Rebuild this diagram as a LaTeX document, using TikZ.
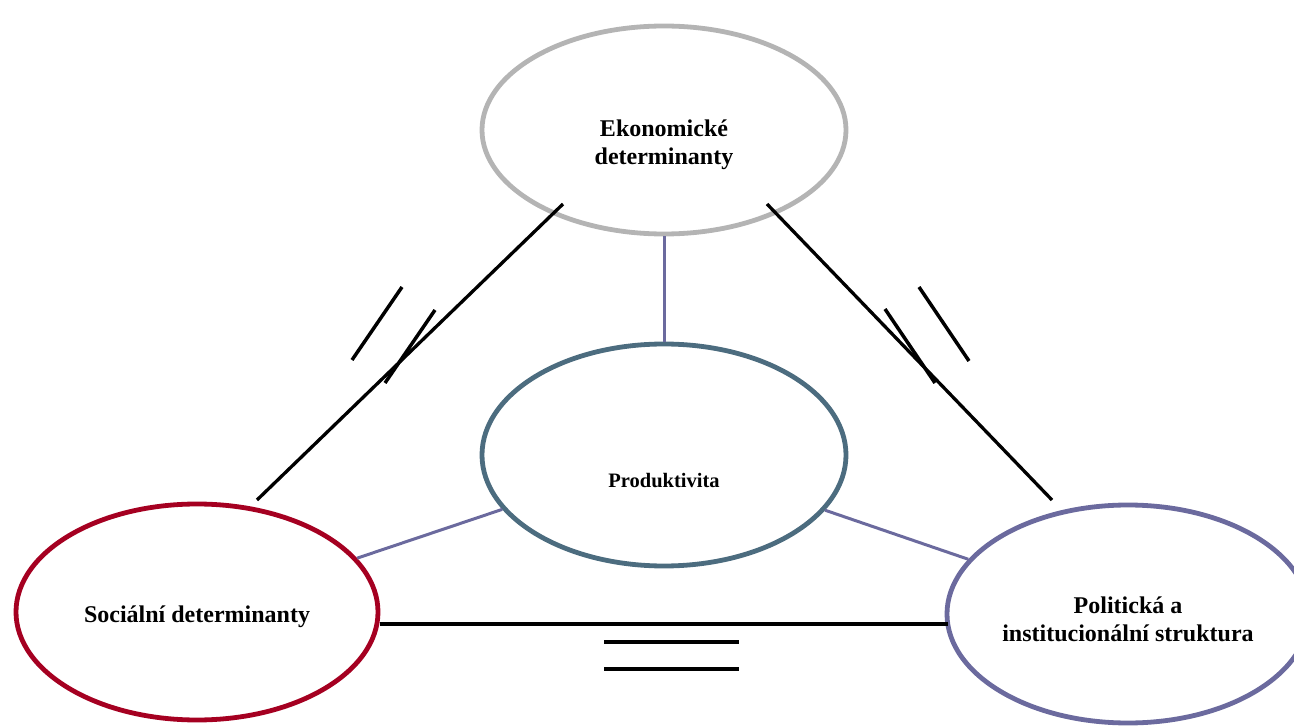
\documentclass[tikz,border=0pt]{standalone}
\usepackage{fontspec}
\setmainfont{Liberation Serif}
\usetikzlibrary{shapes.geometric}
\definecolor{ecogray}{HTML}{B4B4B4}
\definecolor{prodteal}{HTML}{4C6C7F}
\definecolor{socred}{HTML}{A50021}
\definecolor{polpurple}{HTML}{6B6A9E}
\begin{document}
\begin{tikzpicture}[x=1pt,y=-1pt,
  oval/.style={ellipse, draw, line width=4.8pt, inner sep=0pt, fill=white},
  lbl/.style={font=\bfseries\fontsize{24}{28}\selectfont, align=center, inner sep=0pt},
  link/.style={draw=polpurple, line width=3pt},
  rel/.style={draw=black, line width=3.3pt},
  tick/.style={draw=black, line width=3.5pt}]
\useasboundingbox (0,0) rectangle (1294,727);
\clip (0,0) rectangle (1294,727);
% ellipses
\node[oval, draw=ecogray, minimum width=364pt, minimum height=208pt] (E) at (664,130) {};
\node[oval, draw=prodteal, minimum width=364pt, minimum height=222pt] (P) at (664,455) {};
\node[oval, draw=socred, minimum width=362pt, minimum height=216pt] (L) at (197,612) {};
\node[oval, draw=polpurple, minimum width=362pt, minimum height=218pt] (R) at (1128,614) {};
% labels
\node[lbl] (tE) at (664,145) {Ekonomické\\determinanty};
\node[lbl, font=\bfseries\fontsize{20.5}{24}\selectfont, anchor=base] (tP) at (664,487) {Produktivita};
\node[lbl, anchor=base] (tL) at (197,622) {Sociální determinanty};
\node[lbl] (tR) at (1128,619) {Politická a\\institucionální struktura};
% purple links
\draw[link] (E) -- (P);
\draw[link] (L) -- (P);
\draw[link] (P) -- (R);
% black relations
\coordinate (eL) at (563,204);
\coordinate (sL) at (257,500);
\coordinate (eR) at (767,204);
\coordinate (pR) at (1052,500);
\coordinate (hL) at (380,624);
\coordinate (hR) at (948,624);
\draw[rel] (eL) -- (sL);
\draw[rel] (eR) -- (pR);
\draw[rel] (hL) -- (hR);
% marks
\coordinate (a1) at (402,287); \coordinate (a2) at (352,360);
\coordinate (b1) at (435,310); \coordinate (b2) at (385,383);
\coordinate (c1) at (919,287); \coordinate (c2) at (969,361);
\coordinate (d1) at (885,309); \coordinate (d2) at (935,383);
\coordinate (q1) at (604,642); \coordinate (q2) at (739,642);
\coordinate (r1) at (604,669); \coordinate (r2) at (739,669);
\draw[tick] (a1) -- (a2);
\draw[tick] (b1) -- (b2);
\draw[tick] (c1) -- (c2);
\draw[tick] (d1) -- (d2);
\draw[tick] (q1) -- (q2);
\draw[tick] (r1) -- (r2);
\end{tikzpicture}
\end{document}
